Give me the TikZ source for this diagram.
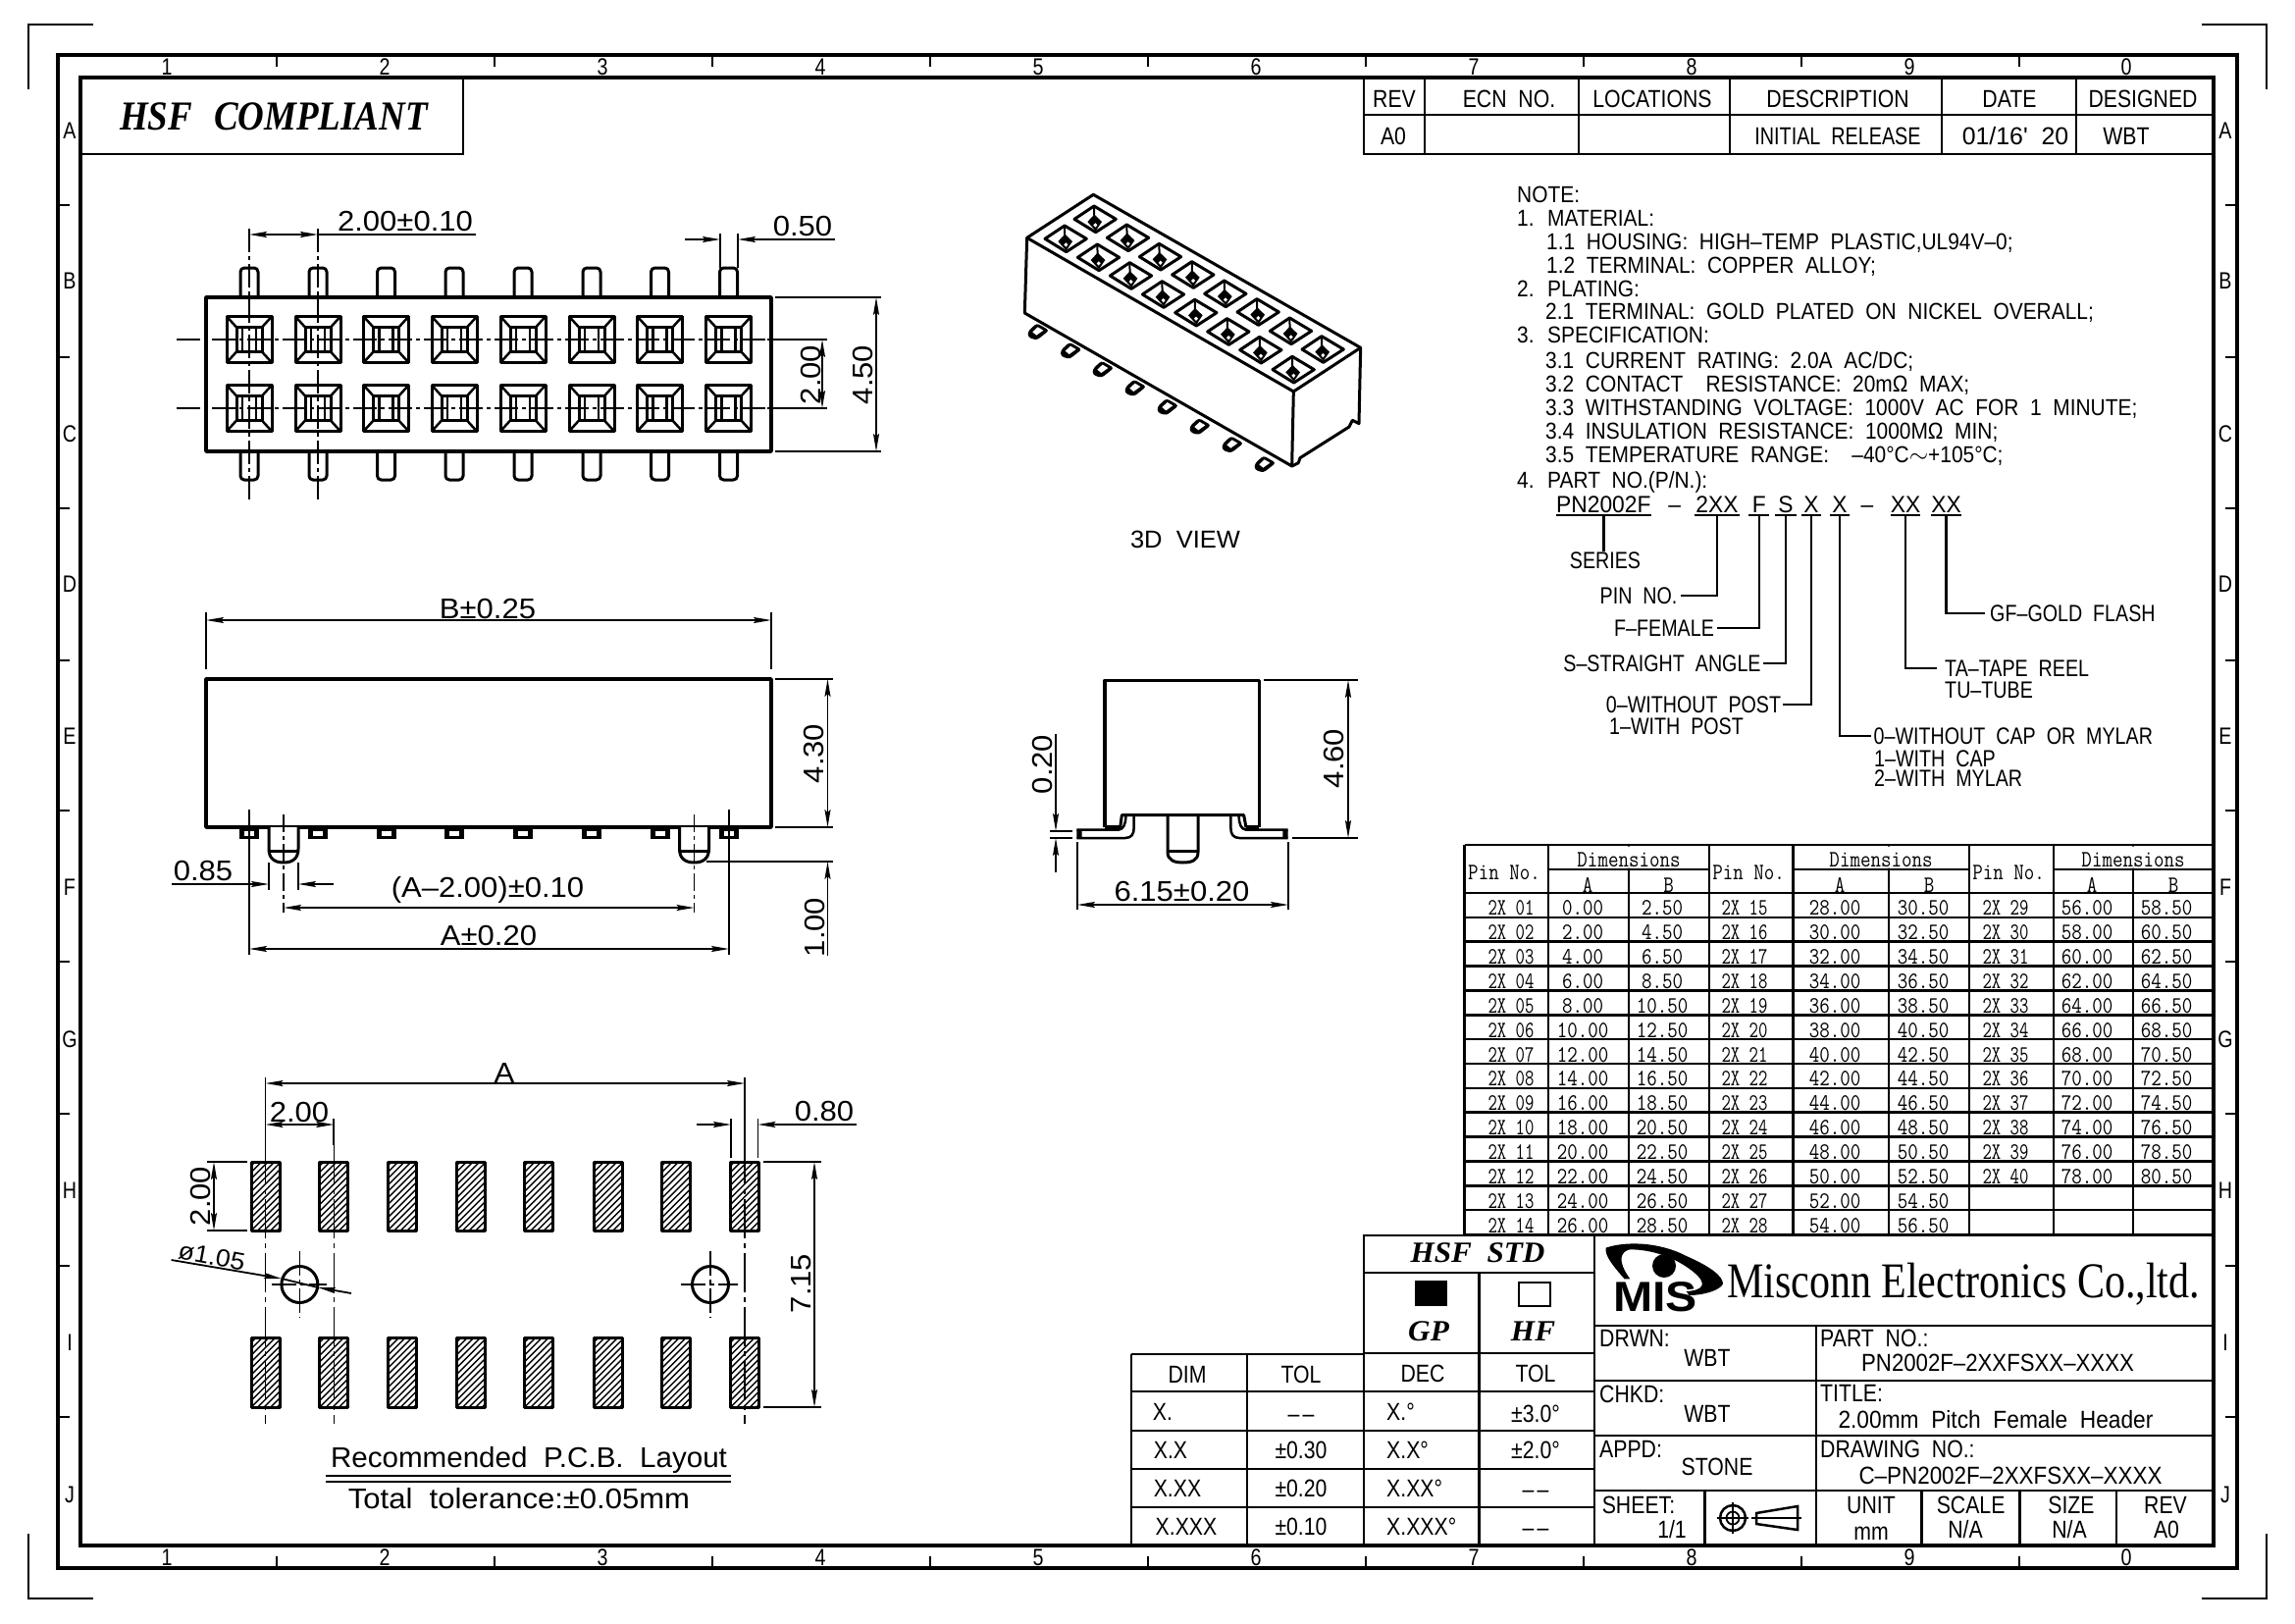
\documentclass[tikz,border=0pt]{standalone}
\usepackage{fontspec}
\usepackage{graphicx}
\usetikzlibrary{arrows.meta}
\setmainfont{Liberation Sans}
\newfontfamily\fCad[FakeStretch=0.82,WordSpace=2]{Liberation Sans}
\newfontfamily\fNot[FakeStretch=0.89,WordSpace=2]{Liberation Sans}
\newfontfamily\fPrt[FakeStretch=0.95,WordSpace=2]{Liberation Sans}
\newfontfamily\fBlk[FakeStretch=0.85,WordSpace=2]{Liberation Sans}
\newfontfamily\fDim[FakeStretch=1.07,WordSpace=2]{Liberation Sans}
\newfontfamily\fTxt[FakeStretch=1.02,WordSpace=2]{Liberation Sans}
\newfontfamily\fHsf[FakeStretch=0.88,WordSpace=2.4]{Liberation Serif}
\newfontfamily\fStd[FakeStretch=1.04,WordSpace=2]{Liberation Serif}
\newfontfamily\fCo[FakeStretch=0.824]{Liberation Serif}
\newfontfamily\fTb[FakeStretch=0.85]{Latin Modern Mono}
\newfontfamily\fTp[FakeStretch=0.76]{Latin Modern Mono}
\newcommand{\fsz}[1]{\fontsize{#1pt}{#1pt}\selectfont}
\newcommand{\xsq}[2]{\scalebox{#1}[1]{#2}}
\tikzset{
  part/.style={line width=3pt,line join=round},
  blk/.style={line width=2.5pt},
  fram/.style={line width=3.5pt},
  thinl/.style={line width=1.8pt},
  cl/.style={line width=1.3pt,dash pattern=on 24pt off 4pt on 4pt off 4pt},
  dm/.style={line width=1.8pt,{Stealth[length=18pt,width=6pt,inset=3pt]}-{Stealth[length=18pt,width=6pt,inset=3pt]}},
  dr/.style={line width=1.8pt,-{Stealth[length=18pt,width=6pt,inset=3pt]}},
  dt/.style={inner sep=0pt,font=\fDim\fsz{29},text height=21pt,text depth=0pt},
  gd/.style={inner sep=0pt,font=\fCad\fsz{24},text height=17pt,text depth=0pt},
  bt/.style={inner sep=0pt,font=\fBlk\fsz{25},text height=18pt,text depth=0pt},
  nt/.style={inner sep=0pt,anchor=west,font=\fNot\fsz{23.5},text height=17pt,text depth=0pt},
  tb/.style={inner sep=0pt,font=\fTb\fsz{24},text height=15pt,text depth=0pt},
  tp/.style={inner sep=0pt,font=\fTp\fsz{24},text height=15pt,text depth=0pt},
  th/.style={inner sep=0pt,font=\fTb\fsz{24},text height=16pt,text depth=0pt},
  ps/.style={inner sep=0pt,font=\fPrt\fsz{24},text height=17pt,text depth=0pt,minimum height=22pt,anchor=south},
}
\begin{document}
\begin{tikzpicture}[x=1pt,y=-1pt]
\useasboundingbox (0,0) rectangle (2339,1654);
\fill[white] (0,0) rectangle (2339,1654);
% ---------- frame
\draw[fram] (59,56) rectangle (2280,1598);
\draw[fram] (82,79) rectangle (2256,1575);
\draw[blk] (95,25) -- (29,25) -- (29,91);
\draw[blk] (2244,25) -- (2310,25) -- (2310,91);
\draw[blk] (95,1629) -- (29,1629) -- (29,1563);
\draw[blk] (2244,1629) -- (2310,1629) -- (2310,1563);
\foreach \c in {282,504,726,948,1170,1392,1614,1836,2058}{
  \draw[blk] (\c,56) -- (\c,68);
  \draw[blk] (\c,1586) -- (\c,1598);
}
\foreach \r in {209,364,518,673,826,980,1135,1290,1444}{
  \draw[blk] (59,\r) -- (71,\r);
  \draw[blk] (2268,\r) -- (2280,\r);
}
\foreach \l/\x in {1/170,2/392,3/614,4/836,5/1058,6/1280,7/1502,8/1724,9/1946,0/2167}{
  \node[gd] (top\l) at (\x,68) {\l};
  \node[gd] (bot\l) at (\x,1587) {\l};
}
\foreach \l/\y in {A/133,B/286,C/442,D/595,E/750,F/904,G/1059,H/1213,I/1368,J/1523}{
  \node[gd] (lef\l) at (71,\y) {\l};
  \node[gd] (rig\l) at (2268,\y) {\l};
}
% ---------- HSF compliant
\draw[blk] (82,157) -- (472,157) -- (472,79);
\node[inner sep=0pt,font=\fHsf\fsz{42}\bfseries\itshape] (hsf) at (279,119) {HSF COMPLIANT};
% ---------- revision table
\draw[blk] (1390,79) -- (1390,157) -- (2256,157);
\draw[blk] (1390,117) -- (2256,117);
\foreach \x in {1452,1609,1763,1979,2116}{\draw[blk] (\x,79) -- (\x,157);}
\node[bt] (r1) at (1421,100) {REV};
\node[bt] (r2) at (1538,100) {ECN NO.};
\node[bt] (r3) at (1684,100) {LOCATIONS};
\node[bt] (r4) at (1873,100) {DESCRIPTION};
\node[bt] (r5) at (2048,100) {DATE};
\node[bt] (r6) at (2184,100) {DESIGNED};
\node[bt] (r7) at (1420,138) {A0};
\node[bt] (r8) at (1873,138) {\xsq{0.93}{INITIAL RELEASE}};
\node[bt] (r9) at (2054,138) {\xsq{1.17}{01/16' 20}};
\node[bt] (r10) at (2167,138) {WBT};
% ---------- top view
\foreach \c in {254,324,393.5,463,533,603,672.5,742.5}{
  \draw[part,rounded corners=4pt] (\c-9,303) -- (\c-9,273) -- (\c+9,273) -- (\c+9,303);
  \draw[part,rounded corners=4pt] (\c-9,460) -- (\c-9,489) -- (\c+9,489) -- (\c+9,460);
  \foreach \r in {346,416}{
    \draw[part] (\c-23,\r-23.5) rectangle (\c+23,\r+23.5);
    \draw[blk] (\c-23,\r-23.5) -- (\c-12.5,\r-12) (\c+23,\r-23.5) -- (\c+12.5,\r-12)
               (\c-23,\r+23.5) -- (\c-12.5,\r+12) (\c+23,\r+23.5) -- (\c+12.5,\r+12);
    \draw[part] (\c-13,\r-12.5) rectangle (\c+13,\r+12.5);
    \draw[blk] (\c-7,\r-12.5) -- (\c-7,\r+12.5) (\c+7,\r-12.5) -- (\c+7,\r+12.5);
  }
}
\draw[part,line width=3.5pt] (210,303) rectangle (786,460);
\draw[cl] (254,233) -- (254,512);
\draw[cl] (324,233) -- (324,512);
\draw[cl] (180,346) -- (780,346);
\draw[cl] (180,416) -- (780,416);
\draw[thinl] (782,346) -- (843,346) (782,416) -- (843,416);
\draw[thinl] (790,303) -- (898,303) (790,460) -- (898,460);
\draw[dm] (254,239) -- (324,239);
\draw[thinl] (324,239) -- (485,239);
\node[dt] (d1) at (413,225) {2.00±0.10};
\draw[thinl] (734,238) -- (734,273) (752,238) -- (752,273);
\draw[dr] (698,244) -- (734,244);
\draw[dr] (851,244) -- (752,244);
\node[dt] (d2) at (818,230) {0.50};
\draw[dm] (893,303) -- (893,460);
\node[dt,rotate=90] (d3) at (879,382) {4.50};
\draw[dm] (838,346) -- (838,416);
\node[dt,rotate=90] (d4) at (826,382) {2.00};
% ---------- 3D view
\begin{scope}[shift={(1000,180)},x=0.33333pt,y=-0.33333pt]
  \foreach \px/\py in {145/475,245/533,343/590,442/647,541/705,640/765,739/820,838/880}{
    \begin{scope}[shift={(\px,\py)}]
      \fill[black,rounded corners=3pt] (-2,-2) -- (25,-27) -- (63,-5) -- (25,25) -- (-2,16) -- cycle;
      \fill[white] (12,0) -- (28,-15) -- (45,-5) -- (24,10) -- cycle;
    \end{scope}
  }
  \draw[part,fill=white,line width=3pt] (343,55) -- (1160,523) -- (1155,755) -- (1135,745) -- (1125,765) -- (975,860) -- (970,875) -- (950,885) -- (133,417) -- (140,187) -- cycle;
  \draw[part,line width=3pt] (140,187) -- (955,657) -- (1160,523);
  \draw[part,line width=3pt] (955,657) -- (950,885);
  \foreach \cx/\cy in {347/130,447/187,546/245,646/300,745/358,845/414,945/472,1043/528,257/190,357/247,456/303,555/360,655/416,754/474,853/530,953/590}{
    \begin{scope}[shift={(\cx,\cy)}]
      \draw[part,line width=3pt] (-2,-40) -- (65,0) -- (3,40) -- (-62,0) -- cycle;
      \draw[blk,line width=2pt] (-2,-40) -- (-1,0);
      \fill[black] (-1,-14) -- (22,8) -- (3,36) -- (-22,8) -- cycle;
      \fill[white] (2,12) -- (8,18) -- (2,25) -- (-4,18) -- cycle;
    \end{scope}
  }
\end{scope}
\node[bt,font=\fTxt\fsz{25}] (v3d) at (1208,549) {3D VIEW};
% ---------- front view
\draw[part,line width=3.5pt] (210,692) rectangle (786,843);
\foreach \c in {254,324,394,463,533,603,673,743}{
  \fill[black] (\c-10,843) rectangle (\c+10,855);
  \fill[white] (\c-5,847) rectangle (\c+5,851.5);
}
\foreach \c in {289,707.5}{
  \draw[part,fill=white] (\c-15,843) -- (\c-15,865) .. controls (\c-15,875) and (\c-9,879) .. (\c,879) .. controls (\c+9,879) and (\c+15,875) .. (\c+15,865) -- (\c+15,843);
  \draw[part] (\c-15,867) -- (\c+15,867);
  \draw[cl,dash pattern=on 18pt off 4pt on 4pt off 4pt] (\c,830) -- (\c,930);
}
\draw[thinl] (254,825) -- (254,870); \draw[thinl] (254,870) -- (254,973);
\draw[thinl] (743,825) -- (743,870); \draw[thinl] (743,870) -- (743,973);
\draw[thinl] (274,879) -- (274,907) (304,879) -- (304,907);
\draw[thinl] (210,624) -- (210,682) (786,624) -- (786,682);
\draw[dm] (210,632) -- (786,632);
\node[dt] (d5) at (497,620) {B±0.25};
\draw[dr] (175,901) -- (274,901);
\draw[dr] (340,901) -- (304,901);
\node[dt] (d6) at (207,887) {0.85};
\draw[dm] (289,925) -- (707.5,925);
\node[dt] (d7) at (497,904) {(A–2.00)±0.10};
\draw[dm] (254,967) -- (743,967);
\node[dt] (d8) at (498,953) {A±0.20};
\draw[thinl] (790,692) -- (849,692) (790,843) -- (849,843) (720,878) -- (849,878);
\draw[dm] (843.5,692) -- (843.5,843);
\draw[dr] (843.5,974) -- (843.5,878);
\node[dt,rotate=90] (d9) at (829,768) {4.30};
\node[dt,rotate=90] (d10) at (830,945) {1.00};
% ---------- side view
\begin{scope}[shift={(1040,680)},x=0.33333pt,y=-0.33333pt]
  \draw[part,line width=3.5pt] (258,490) -- (258,40) -- (730,40) -- (730,490);
  \draw[part] (690,490) -- (683,452) -- (310,452) -- (305,490);
  \draw[part,line width=4pt] (258,490) -- (305,490) (690,490) -- (730,490);
  \draw[blk] (172,497) -- (300,497) .. controls (315,495) and (322,480) .. (322,455);
  \draw[blk] (172,522) -- (320,522) .. controls (340,522) and (347,510) .. (347,490) -- (347,455);
  \draw[blk] (818,497) -- (690,497) .. controls (675,495) and (668,480) .. (668,455);
  \draw[blk] (818,522) -- (670,522) .. controls (650,522) and (643,510) .. (643,490) -- (643,455);
  \fill[black] (172,497) rectangle (188,522) (802,497) rectangle (818,522);
  \draw[part] (450,452) -- (450,565) .. controls (450,590) and (470,597) .. (496,597) .. controls (525,597) and (543,590) .. (543,565) -- (543,452);
  \draw[blk] (450,562) -- (543,562);
\end{scope}
\draw[thinl] (1098,858) -- (1098,927) (1313,858) -- (1313,927);
\draw[dm] (1098,922) -- (1313,922);
\node[dt] (d11) at (1204.5,908) {6.15±0.20};
\draw[thinl] (1070,847) -- (1093,847) (1070,854) -- (1093,854);
\draw[dr] (1076,748) -- (1076,847);
\draw[dr] (1076,889) -- (1076,854);
\node[dt,rotate=90] (d12) at (1062,779) {0.20};
\draw[thinl] (1288,693) -- (1384,693) (1317,854) -- (1384,854);
\draw[dm] (1374,693) -- (1374,854);
\node[dt,rotate=90] (d13) at (1359,773) {4.60};
% ---------- PCB layout
\foreach \c in {270.5,340.3,409.7,479.5,549,619.5,689,759}{
  \foreach \t/\b in {1184/1254,1363/1434}{
    \begin{scope}
      \clip (\c-14.5,\t) rectangle (\c+14.5,\b);
      \foreach \k in {-12,...,5}{
        \draw[line width=1.4pt] (\c-14.5+\k*6.6,\b) -- (\c-14.5+\k*6.6+72,\b-72);
      }
    \end{scope}
    \draw[part] (\c-14.5,\t) rectangle (\c+14.5,\b);
  }
}
\foreach \c in {270.5,340.3,759}{
  \draw[cl,dash pattern=on 40pt off 5pt on 5pt off 5pt] (\c,1167) -- (\c,1451);
}
\draw[thinl] (270.5,1098) -- (270.5,1167) (759,1098) -- (759,1167) (340.3,1140) -- (340.3,1167);
\draw[dm] (270.5,1104) -- (759,1104);
\node[dt] (d14) at (514,1093) {A};
\draw[dm] (270.5,1146) -- (340.3,1146);
\node[dt] (d15) at (305,1133) {2.00};
\draw[thinl] (745,1140) -- (745,1180) (772.4,1140) -- (772.4,1180);
\draw[dr] (709.5,1146) -- (745,1146);
\draw[dr] (872.5,1146) -- (772.4,1146);
\node[dt] (d16) at (840,1132) {0.80};
\draw[thinl] (211,1184) -- (252,1184) (211,1254) -- (252,1254);
\draw[dm] (218,1184) -- (218,1254);
\node[dt,rotate=90] (d17) at (204.4,1219) {2.00};
\draw[thinl] (778,1184) -- (837,1184) (778,1434) -- (837,1434);
\draw[dm] (830,1184) -- (830,1434);
\node[dt,rotate=90] (d18) at (816,1308) {7.15};
\draw[part] (305.4,1309) circle[radius=18.5pt];
\draw[part] (724,1309) circle[radius=18.5pt];
\draw[cl,dash pattern=on 25pt off 4pt on 5pt off 4pt] (305.4,1275) -- (305.4,1343) (276.5,1309) -- (333,1309);
\draw[cl,dash pattern=on 25pt off 4pt on 5pt off 4pt] (724,1275) -- (724,1343) (694,1309) -- (752,1309);
\draw[dr] (174.6,1284) -- (287,1303);
\draw[dr] (358,1318) -- (324,1312);
\draw[thinl] (287,1303) -- (324,1312);
\node[dt,rotate=-10.5,font=\fDim\fsz{25},text height=18pt] (d19) at (216,1280) {ø1.05};
\node[inner sep=0pt,font=\fTxt\fsz{29},text height=21pt,text depth=0pt] (pcb1) at (539,1485) {Recommended P.C.B. Layout};
\draw[blk] (332,1504) -- (745,1504) (332,1510) -- (745,1510);
\node[inner sep=0pt,font=\fDim\fsz{29},text height=21pt,text depth=0pt] (pcb2) at (529,1527) {Total tolerance:±0.05mm};
% ---------- left tolerance table
\foreach \y in {1380,1418,1458,1497,1536,1574}{\draw[blk] (1153,\y) -- (1390,\y);}
\foreach \x in {1153,1271}{\draw[blk] (\x,1380) -- (\x,1574);}
\node[bt] (a1) at (1210,1400) {DIM};
\node[bt] (a2) at (1326,1400) {TOL};
\node[bt] (a3) at (1185,1438) {X.};
\node[bt] (a4) at (1326,1440) {–\hspace{3pt}–};
\node[bt,anchor=center] (a5) at (1193,1477) {X.X};
\node[bt] (a6) at (1326,1477) {±0.30};
\node[bt] (a7) at (1200,1516) {X.XX};
\node[bt] (a8) at (1326,1516) {±0.20};
\node[bt] (a9) at (1209,1555) {X.XXX};
\node[bt] (a10) at (1326,1555) {±0.10};
% ---------- HSF STD block
\draw[blk] (1390,1259) rectangle (1625,1574);
\foreach \y in {1297,1379,1418,1458,1497,1536}{\draw[blk] (1390,\y) -- (1625,\y);}
\draw[blk] (1507.5,1297) -- (1507.5,1574);
\node[inner sep=0pt,font=\fStd\fsz{30}\bfseries\itshape] (s0) at (1506,1277) {HSF STD};
\fill[black] (1442,1305) rectangle (1475,1331);
\draw[blk] (1548,1307) rectangle (1580,1331);
\node[inner sep=0pt,font=\fStd\fsz{30}\bfseries\itshape] (s1) at (1456,1357) {GP};
\node[inner sep=0pt,font=\fStd\fsz{30}\bfseries\itshape] (s2) at (1562.5,1357) {HF};
\node[bt] (s3) at (1450,1399) {DEC};
\node[bt] (s4) at (1565,1399) {TOL};
\node[bt,anchor=west] (s5) at (1413,1438) {X.°};
\node[bt] (s6) at (1565,1440) {±3.0°};
\node[bt,anchor=west] (s7) at (1413,1477) {X.X°};
\node[bt] (s8) at (1565,1477) {±2.0°};
\node[bt,anchor=west] (s9) at (1413,1516) {X.XX°};
\node[bt] (s10) at (1565,1517) {–\hspace{3pt}–};
\node[bt,anchor=west] (s11) at (1413,1555) {X.XXX°};
\node[bt] (s12) at (1565,1556) {–\hspace{3pt}–};
% ---------- title block
\draw[blk] (1625,1259) -- (2256,1259);
\foreach \y in {1351,1407,1463,1519}{\draw[blk] (1625,\y) -- (2256,\y);}
\draw[blk] (1851,1351) -- (1851,1574);
\foreach \x in {1737.6,1958.6,2058.5,2157}{\draw[blk] (\x,1519) -- (\x,1574);}
% logo
\begin{scope}[shift={(1380,1240)},x=0.574pt,y=-0.33333pt]
  \fill[black] (447,95) .. controls (480,75) and (540,75) .. (590,120) .. controls (630,150) and (655,180) .. (655,205) .. controls (650,225) and (620,240) .. (595,240) -- (590,228) .. controls (620,225) and (630,205) .. (600,165) .. controls (570,125) and (530,100) .. (490,100) .. controls (475,105) and (465,130) .. (490,190) -- (480,190) .. controls (460,150) and (445,120) .. (447,95) -- cycle;
\end{scope}
\fill[black] (1696,1290) circle[radius=12pt];
\node[inner sep=0pt,font=\fsz{43}\bfseries,text height=31pt,text depth=0pt] (mis) at (1687,1320.5) {\xsq{1.12}{MIS}};
\node[inner sep=0pt,font=\fCo\fsz{51},anchor=base] (co) at (2001,1322) {Misconn Electronics Co.,ltd.};
\node[bt,anchor=west] (t1) at (1630,1363) {DRWN:};
\node[bt] (t2) at (1740,1383) {WBT};
\node[bt,anchor=west] (t3) at (1855,1363) {PART NO.:};
\node[bt] (t4) at (2036,1388) {\xsq{1.045}{PN2002F–2XXFSXX–XXXX}};
\node[bt,anchor=west] (t5) at (1630,1420) {CHKD:};
\node[bt] (t6) at (1740,1440) {WBT};
\node[bt,anchor=west] (t7) at (1855,1419) {TITLE:};
\node[bt] (t8) at (2034,1446) {\xsq{1.07}{2.00mm Pitch Female Header}};
\node[bt,anchor=west] (t9) at (1630,1476) {APPD:};
\node[bt] (t10) at (1750,1494) {STONE};
\node[bt,anchor=west] (t11) at (1855,1476) {DRAWING NO.:};
\node[bt] (t12) at (2049,1503) {\xsq{1.055}{C–PN2002F–2XXFSXX–XXXX}};
\node[bt,anchor=west] (t13) at (1632.6,1533) {SHEET:};
\node[bt] (t14) at (1704,1558) {1/1};
\draw[blk] (1766,1547) circle[radius=13pt];
\draw[thinl] (1766,1547) circle[radius=6.5pt];
\draw[thinl] (1766,1531) -- (1766,1563) (1750,1547) -- (1782,1547);
\draw[blk] (1790,1542) -- (1832,1535) -- (1832,1559) -- (1790,1553) -- cycle;
\draw[thinl] (1785,1547) -- (1836,1547);
\node[bt] (t15) at (1907,1533) {UNIT};
\node[bt] (t16) at (1907,1560) {mm};
\node[bt] (t17) at (2008.6,1533) {SCALE};
\node[bt] (t18) at (2003,1558) {N/A};
\node[bt] (t19) at (2111,1533) {SIZE};
\node[bt] (t20) at (2109,1558) {N/A};
\node[bt] (t21) at (2207,1533) {REV};
\node[bt] (t22) at (2208,1558) {A0};
% ---------- pin table
\foreach \x in {1492.5,1578,1660,1742,1827.5,1925,2007,2093,2174,2255}{\draw[blk] (\x,861) -- (\x,1258);}
\draw[blk] (1492.5,861) -- (2255,861);
\foreach \k in {0,...,14}{\draw[blk] (1492.5,910+\k*24.857) -- (2255,910+\k*24.857);}
\foreach \a/\b in {1578/1742,1827.5/2007,2093/2255}{\draw[blk] (\a,886) -- (\b,886);}
\fill[white] (1659,862.5) rectangle (1661,884.5) (1924,862.5) rectangle (1926,884.5) (2173,862.5) rectangle (2175,884.5);
\foreach \g/\px/\pn/\dx/\ax/\bx in {0/1533/1/1660/1618/1700.5,1/1782/2/1917/1875/1966,2/2047/3/2174/2132/2215}{
  \node[th] (pn\g) at (\px,888) {Pin No.};
  \node[th] (dn\g) at (\dx,875) {Dimensions};
  \node[th] (ha\g) at (\ax,901) {A};
  \node[th] (hb\g) at (\bx,901) {B};
}
\foreach \g/\pc/\ac/\bc/\nr in {0/1540/1613/1694/13,1/1778/1870/1960/13,2/2044/2127/2208/11}{
  \foreach \i in {0,...,\nr}{
    \pgfmathtruncatemacro{\nn}{\i+1+14*\g}
    \pgfmathtruncatemacro{\av}{2*(\nn-1)}
    \pgfmathtruncatemacro{\bv}{\av+2}
    \pgfmathsetmacro{\yy}{925.4+\i*24.857}
    \node[tp] (p\g-\i) at (\pc,\yy) {2X \ifnum\nn<10 0\fi\nn};
    \node[tb] (a\g-\i) at (\ac,\yy) {\av.00};
    \node[tb] (b\g-\i) at (\bc,\yy) {\bv.50};
  }
}
% ---------- notes
\node[nt] (n0) at (1546,198) {NOTE:};
\node[nt] (n1) at (1546,222) {1. MATERIAL:};
\node[nt] (n2) at (1576,246) {1.1 HOUSING: HIGH–TEMP PLASTIC,UL94V–0;};
\node[nt] (n3) at (1576,270) {1.2 TERMINAL: COPPER ALLOY;};
\node[nt] (n4) at (1546,294) {2. PLATING:};
\node[nt] (n5) at (1575,317) {2.1 TERMINAL: GOLD PLATED ON NICKEL OVERALL;};
\node[nt] (n6) at (1546,341) {3. SPECIFICATION:};
\node[nt] (n7) at (1575,367) {3.1 CURRENT RATING: 2.0A AC/DC;};
\node[nt] (n8) at (1575,391) {3.2 CONTACT\ \ RESISTANCE: 20mΩ MAX;};
\node[nt] (n9) at (1575,415) {3.3 WITHSTANDING VOLTAGE: 1000V AC FOR 1 MINUTE;};
\node[nt] (n10) at (1575,439) {3.4 INSULATION RESISTANCE: 1000MΩ MIN;};
\node[nt] (n11) at (1575,463) {3.5 TEMPERATURE RANGE:\ \ –40°C$\sim$+105°C;};
\node[nt] (n12) at (1546,489) {4. PART NO.(P/N.):};
% part number
\node[ps,minimum width=92.6pt] (pa) at (1634.3,525) {PN2002F};
\node[ps] (da) at (1706.6,525) {–};
\node[ps,minimum width=46pt] (pb) at (1750,525) {2XX};
\node[ps,minimum width=20.5pt] (pc) at (1792.75,525) {F};
\node[ps,minimum width=22pt] (pd) at (1820,525) {S};
\node[ps,minimum width=20pt] (pe) at (1846,525) {X};
\node[ps,minimum width=20pt] (pf) at (1875,525) {X};
\node[ps] (db) at (1903,525) {–};
\node[ps,minimum width=28pt] (pg) at (1942,525) {XX};
\node[ps,minimum width=29pt] (ph) at (1983.5,525) {XX};
\foreach \n in {pa,pb,pc,pd,pe,pf,pg,ph}{\draw[blk] (\n.south west) -- (\n.south east);}
\node[gd] (la) at (1636,571) {SERIES};
\node[gd] (lb) at (1670,607) {PIN NO.};
\node[gd] (lc) at (1696,640) {F–FEMALE};
\node[gd] (ld) at (1694,676) {S–STRAIGHT ANGLE};
\node[gd] (le) at (1726,718) {0–WITHOUT POST};
\node[gd,anchor=west] (le2) at (1640,740) {1–WITH POST};
\node[gd,anchor=west] (lf) at (1909.5,750) {0–WITHOUT CAP OR MYLAR};
\node[gd,anchor=west] (lf2) at (1910,773) {1–WITH CAP};
\node[gd,anchor=west] (lf3) at (1910,793) {2–WITH MYLAR};
\node[gd,anchor=west] (lg) at (1982,681) {TA–TAPE REEL};
\node[gd,anchor=west] (lg2) at (1982,703) {TU–TUBE};
\node[gd,anchor=west] (lh) at (2028,625) {GF–GOLD FLASH};
\draw[blk] (pa.south) -- (pa.south |- la.north);
\draw[blk] (pb.south) |- ([xshift=3pt]lb.east);
\draw[blk] (pc.south) |- ([xshift=3pt]lc.east);
\draw[blk] (pd.south) |- ([xshift=2pt]ld.east);
\draw[blk] (pe.south) |- ([xshift=2pt]le.east);
\draw[blk] (pf.south) |- ([xshift=-3pt]lf.west);
\draw[blk] (pg.south) |- ([xshift=-8pt]lg.west);
\draw[blk] (ph.south) |- ([xshift=-5pt]lh.west);
\end{tikzpicture}
\end{document}
